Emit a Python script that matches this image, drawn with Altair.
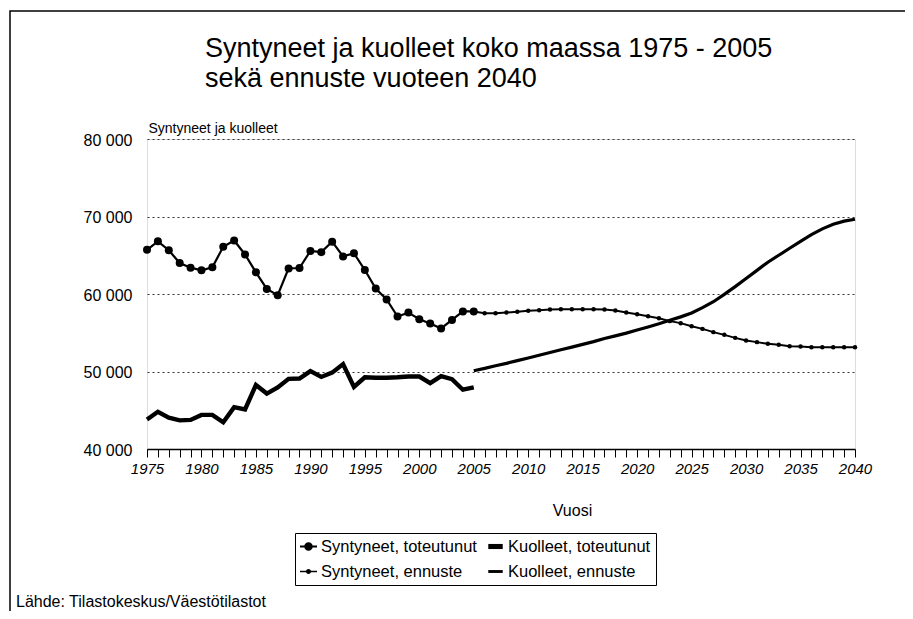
import altair as alt
import pandas as pd

FONT = "Liberation Sans"

# ---- data ----
years_hist = list(range(1975, 2006))
births_hist = [65700, 66800, 65650, 64000, 63400, 63050, 63450, 66100, 66900, 65100,
               62800, 60650, 59850, 63300, 63350, 65550, 65400, 66750, 64850, 65250,
               63100, 60700, 59300, 57100, 57600, 56750, 56200, 55550, 56650, 57750, 57750]
deaths_hist = [43800, 44800, 44050, 43700, 43750, 44400, 44400, 43450, 45400, 45100,
               48250, 47150, 47950, 49050, 49100, 50050, 49300, 49850, 50950, 48000,
               49250, 49200, 49200, 49250, 49350, 49350, 48500, 49400, 49000, 47650, 47950]

years_fc = list(range(2005, 2041))
births_fc = [57750, 57530, 57530, 57610, 57700, 57830, 57910, 58000, 58040, 58040,
             58040, 58040, 58000, 57870, 57610, 57400, 57140, 56880, 56500, 56240,
             55850, 55500, 55080, 54730, 54340, 54000, 53790, 53570, 53440, 53270,
             53230, 53140, 53140, 53140, 53140, 53140]
deaths_fc = [50100, 50400, 50750, 51050, 51400, 51750, 52100, 52450, 52800, 53150,
             53500, 53850, 54250, 54600, 54950, 55350, 55750, 56150, 56600, 57050,
             57550, 58250, 59000, 59950, 60950, 62000, 63050, 64100, 65000, 65900,
             66800, 67650, 68400, 69000, 69400, 69650]

series_names = ["Syntyneet, toteutunut", "Kuolleet, toteutunut",
                "Syntyneet, ennuste", "Kuolleet, ennuste"]
y_ticks = [40000, 50000, 60000, 70000, 80000]
x_ticks = list(range(1975, 2041))

title_lines = ["Syntyneet ja kuolleet koko maassa 1975 - 2005",
               "sekä ennuste vuoteen 2040"]
y_title = "Syntyneet ja kuolleet"
x_title = "Vuosi"
source_text = ["Lähde: Tilastokeskus/Väestötilastot"]

# ---- build table ----
rows = []
for s, yrs, vals in [(series_names[0], years_hist, births_hist),
                     (series_names[1], years_hist, deaths_hist),
                     (series_names[2], years_fc, births_fc),
                     (series_names[3], years_fc, deaths_fc)]:
    for yr, v in zip(yrs, vals):
        rows.append({"vuosi": yr, "arvo": v, "sarja": s})
df = pd.DataFrame(rows)

# legend symbols (custom paths, unit = sqrt(symbolSize)/2 px)
def circ(r):
    return f"M{r},0A{r},{r},0,1,1,-{r},0A{r},{r},0,1,1,{r},0Z"

def bar(w, h):
    return f"M-{w},-{h}H{w}V{h}H-{w}Z"

legend_paths = [bar(1, 0.12) + circ(0.5), bar(0.85, 0.3),
                bar(1, 0.1) + circ(0.3), bar(0.85, 0.17)]

x_enc = alt.X("vuosi:Q",
              scale=alt.Scale(domain=[1975, 2040], nice=False, zero=False),
              axis=alt.Axis(values=x_ticks, format="d",
                            labelExpr="datum.value % 5 == 0 ? datum.label : ''",
                            labelOverlap=False, labelFlush=False,
                            tickSize=8, tickColor="black", tickWidth=1,
                            domainColor="black", domainWidth=1.5,
                            labelFontSize=15, labelFontStyle="italic", labelPadding=4,
                            labelColor="black", labelFont=FONT,
                            grid=False, title=x_title, titleFontSize=16,
                            titleFontWeight="normal", titleFont=FONT,
                            titleX=425, titleY=61, titleAlign="center",
                            titleBaseline="middle", titleColor="black"))
y_enc = alt.Y("arvo:Q",
              scale=alt.Scale(domain=[40000, 80000], nice=False, zero=False),
              axis=alt.Axis(values=y_ticks,
                            labelExpr="replace(format(datum.value, ','), ',', ' ')",
                            labelFontSize=16, labelPadding=15, labelColor="black",
                            labelFont=FONT, labelOffset=1,
                            tickSize=0, domain=False,
                            grid=True, gridDash=[2, 3], gridColor="#333333", gridWidth=1,
                            title=y_title, titleAngle=0, titleX=1, titleY=-7,
                            titleAlign="left", titleBaseline="alphabetic",
                            titleFontSize=14, titleFontWeight="normal",
                            titleFont=FONT, titleColor="black"))

base = alt.Chart(df).encode(x=x_enc, y=y_enc)


def only(name):
    return alt.datum.sarja == name


births_line = base.transform_filter(only(series_names[0])).mark_line(color="black", strokeWidth=2.2)
births_pts = base.transform_filter(only(series_names[0])).mark_point(
    filled=True, color="black", size=64, opacity=1)
deaths_line = base.transform_filter(only(series_names[1])).mark_line(color="black", strokeWidth=4.4)
bfc_line = base.transform_filter(only(series_names[2])).mark_line(color="black", strokeWidth=2)
bfc_pts = base.transform_filter(only(series_names[2])).mark_point(
    filled=True, color="black", size=20, opacity=1)
dfc_line = base.transform_filter(only(series_names[3])).mark_line(color="black", strokeWidth=3.2)

legend_layer = base.mark_point(filled=True, color="black", opacity=0).encode(
    shape=alt.Shape("sarja:N",
                    scale=alt.Scale(domain=series_names, range=legend_paths),
                    sort=series_names,
                    legend=alt.Legend(title=None, orient="none", legendX=148, legendY=394,
                                      direction="horizontal", columns=2,
                                      strokeColor="black", padding=5,
                                      symbolSize=289, symbolOpacity=1,
                                      symbolFillColor="black", symbolStrokeWidth=0,
                                      labelFontSize=16.5, labelFont=FONT, labelColor="black",
                                      labelOffset=4, columnPadding=10, rowPadding=8,
                                      labelLimit=300)))

frame = alt.Chart(pd.DataFrame({"k": [0]})).mark_rect(
    fill="transparent", stroke="black", strokeWidth=1.5).encode(
    x=alt.value(-137), x2=alt.value(800), y=alt.value(-128), y2=alt.value(520))

footer = alt.Chart(pd.DataFrame({"t": source_text})).mark_text(
    align="left", baseline="alphabetic", fontSize=16, font=FONT, color="black").encode(
    x=alt.value(-131), y=alt.value(468), text="t:N")

chart = alt.layer(frame, births_line, births_pts, deaths_line, bfc_line, bfc_pts,
                  dfc_line, legend_layer, footer).properties(
    width=708, height=310,
    autosize=alt.AutoSizeParams(type="none"),
    padding={"left": 139, "top": 131, "right": 50, "bottom": 162},
    title=alt.TitleParams(text=title_lines, anchor="start", frame="group", dx=58,
                          dy=124, fontSize=27, font=FONT, fontWeight="normal",
                          color="black", lineHeight=30, offset=41),
).configure_view(stroke="black", strokeWidth=1.5).configure(background="white")

chart.save("out.html", embed_options={"renderer": "svg", "actions": False})
